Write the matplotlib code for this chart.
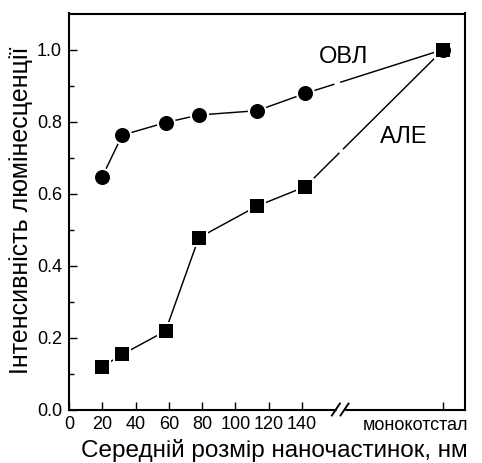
import matplotlib.pyplot as plt
from matplotlib.transforms import blended_transform_factory

plt.rcParams['font.family'] = ['Liberation Sans', 'DejaVu Sans']

# середній розмір наночастинок, нм
sizes = [20, 32, 58, 78, 113, 142]
# інтенсивність люмінесценції (нормована)
ovl = [0.647, 0.762, 0.797, 0.818, 0.830, 0.878]
ale = [0.119, 0.153, 0.218, 0.477, 0.565, 0.619]
ovl_mono = 1.0
ale_mono = 1.0

x_ticks = [0, 20, 40, 60, 80, 100, 120, 140]
y_ticks = [0.0, 0.2, 0.4, 0.6, 0.8, 1.0]

MONO_X = 225      # позиція монокристалу на осі після розриву
BREAK_X = 163

fig = plt.figure(figsize=(4.82, 4.63), dpi=100)
ax = fig.add_axes([69 / 482, 1 - 409.5 / 463, 396 / 482, 396 / 463])

lw = 1.05
# суцільні ділянки
ax.plot(sizes, ovl, color='black', lw=lw, zorder=2)
ax.plot(sizes, ale, color='black', lw=lw, zorder=2)
# штрихові ділянки до монокристалу
ax.plot([sizes[-1], MONO_X], [ovl[-1], ovl_mono], color='black', lw=lw,
        dashes=[21, 4.1, 400, 1], zorder=2)
ax.plot([sizes[-1], MONO_X], [ale[-1], ale_mono], color='black', lw=lw,
        dashes=[33, 3.4, 400, 1], zorder=2)

xs = sizes + [MONO_X]
ys_o = ovl + [ovl_mono]
ys_a = ale + [ale_mono]
# білий ореол навколо маркерів
ax.plot(xs, ys_o, 'o', ms=13.8, mfc='white', mec='white', mew=0, zorder=3)
ax.plot(xs, ys_a, 's', ms=12.6, mfc='white', mec='white', mew=0, zorder=3)
ax.plot(xs, ys_o, 'o', ms=10.8, color='black', mew=0, zorder=4)
ax.plot(xs, ys_a, 's', ms=9.6, color='black', mew=0, zorder=4)

ax.set_xlim(0, 238)
ax.set_ylim(0, 1.1)

ax.set_xticks(x_ticks + [MONO_X])
ax.set_xticklabels([str(v) for v in x_ticks] + [''])
ax.set_yticks(y_ticks)
ax.set_yticklabels(['%.1f' % v for v in y_ticks])
ax.set_yticks([0.1, 0.3, 0.5, 0.7, 0.9], minor=True)
ax.tick_params(axis='both', which='both', direction='in', width=1.0,
               labelsize=13)
ax.tick_params(axis='both', which='major', length=5.8)
ax.tick_params(axis='y', which='minor', length=3.6)
ax.tick_params(axis='x', pad=4.5)
ax.tick_params(axis='y', pad=5)
for s in ax.spines.values():
    s.set_linewidth(1.5)

tr = blended_transform_factory(ax.transData, ax.transAxes)
ax.text(208, -0.018, 'монокотстал', fontsize=13, ha='center', va='top',
        transform=tr)

# розрив осі x
ax.add_patch(plt.Rectangle((BREAK_X - 2.2, -0.02), 4.4, 0.04, color='white',
                           transform=tr, clip_on=False, zorder=5))
for dx in (-2.6, 2.6):
    ax.plot([BREAK_X + dx - 2.4, BREAK_X + dx + 2.4], [-0.015, 0.015],
            color='black', lw=1.4, transform=tr, clip_on=False, zorder=6)

fig.text(344 / 482, 1 - 56.7 / 463, 'ОВЛ', fontsize=17, ha='center',
         va='center')
fig.text(403.5 / 482, 1 - 136.6 / 463, 'АЛЕ', fontsize=17, ha='center',
         va='center')
fig.text(274.5 / 482, 1 - 456.7 / 463, 'Середній розмір наночастинок, нм',
         fontsize=17.5, ha='center', va='baseline')
fig.text(21 / 482, 1 - 210 / 463, 'Інтенсивність люмінесценції',
         fontsize=18, ha='center', va='center', rotation=90)

fig.savefig('out.png', dpi=100)
